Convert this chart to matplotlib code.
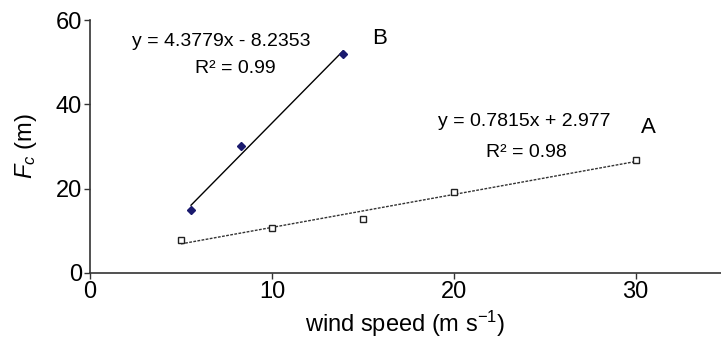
import matplotlib
matplotlib.use("Agg")
import matplotlib.pyplot as plt
import numpy as np

plt.rcParams['font.family'] = ['Liberation Sans', 'DejaVu Sans']
plt.rcParams['mathtext.fontset'] = 'custom'
plt.rcParams['mathtext.rm'] = 'Liberation Sans'
plt.rcParams['mathtext.it'] = 'Liberation Sans:italic'

# Series B (filled diamonds)
b_x = [5.55, 8.3, 13.9]
b_y = [15.0, 30.0, 52.0]
b_slope, b_intercept = 4.3779, -8.2353
# Series A (open squares)
a_x = [5.0, 10.0, 15.0, 20.0, 30.0]
a_y = [7.9, 10.7, 12.7, 19.2, 26.9]
a_slope, a_intercept = 0.7815, 2.977

fig = plt.figure(figsize=(7.21, 3.45), dpi=100)
ax = fig.add_axes([0.125, 0.209, 0.875, 0.733])

xb = np.array([min(b_x), max(b_x)])
ax.plot(xb, b_slope * xb + b_intercept, color='black', lw=1.0, zorder=2)
xa = np.array([min(a_x), max(a_x)])
ax.plot(xa, a_slope * xa + a_intercept, color='#333333', lw=1.0, ls=(0, (2, 1)), zorder=2)

ax.plot(b_x, b_y, ls='none', marker='D', ms=4.5, color='#1a1a6e', zorder=3)
ax.plot(a_x, a_y, ls='none', marker='s', ms=5, mfc='white', mec='#222222', mew=1.0, zorder=3)

ax.text(7.2, 54.9, 'y = 4.3779x - 8.2353', fontsize=14, ha='center', va='center')
ax.text(8.0, 48.6, 'R² = 0.99', fontsize=14, ha='center', va='center')
ax.text(15.9, 55.5, 'B', fontsize=16, ha='center', va='center')
ax.text(23.9, 36.0, 'y = 0.7815x + 2.977', fontsize=14, ha='center', va='center')
ax.text(24.0, 28.6, 'R² = 0.98', fontsize=14, ha='center', va='center')
ax.text(30.7, 34.5, 'A', fontsize=16, ha='center', va='center')

ax.set_xlim(0, 34.7)
ax.set_ylim(0, 60)
ax.set_xticks([0, 10, 20, 30])
ax.set_yticks([0, 20, 40, 60])
ax.spines['top'].set_visible(False)
ax.spines['right'].set_visible(False)
for s in ('left', 'bottom'):
    ax.spines[s].set_linewidth(1.2)
    ax.spines[s].set_color('#333333')
ax.tick_params(labelsize=17, length=4, width=1.0, color='#333333', pad=2)
ax.set_xlabel('wind speed (m s$^{\\mathregular{-1}}$)', fontsize=17, labelpad=4)
ax.set_ylabel('$F_c$ (m)', fontsize=17, labelpad=12)

fig.savefig('out.png', dpi=100)
